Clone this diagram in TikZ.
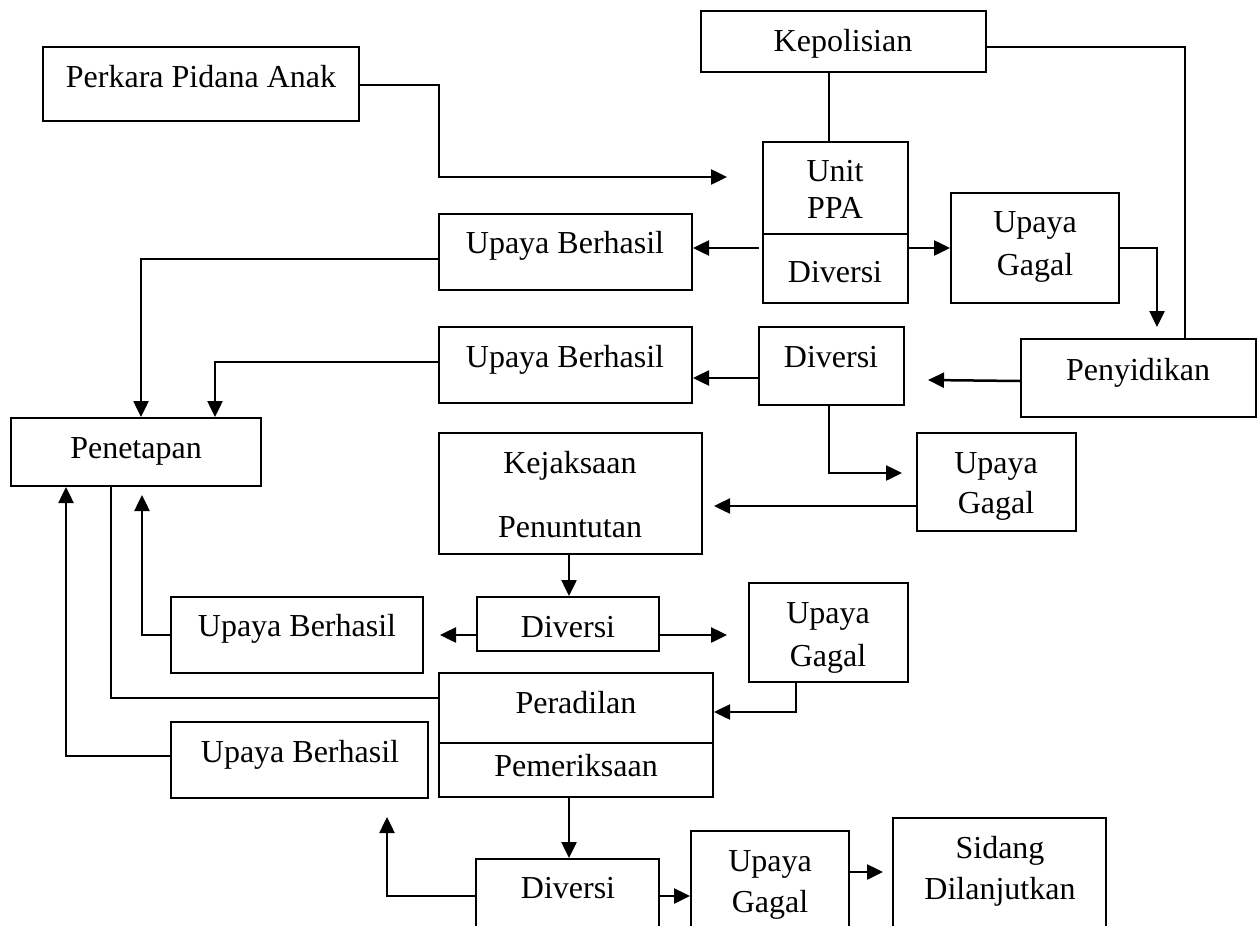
\documentclass[tikz,border=0pt]{standalone}
\usepackage{fontspec}
\setmainfont{Liberation Serif}
\usetikzlibrary{fit,arrows.meta}
\begin{document}
\begin{tikzpicture}[x=0.5pt,y=-0.5pt,
  box/.style={draw, line width=1pt, inner sep=0pt, rectangle},
  txt/.style={inner sep=0pt, anchor=base, font=\fontsize{16}{19}\selectfont},
  ln/.style={line width=1pt},
  arr/.style={line width=1.25pt, -{Triangle[length=8pt,width=7.5pt]}}]
\useasboundingbox (0,0) rectangle (1258,926);
\fill[white] (0,0) rectangle (1258,926);
% boxes
\node[box, fit={(43,47)(359,121)}] (perk) {};
\node[box, fit={(701,11)(986,72)}] (kep) {};
\node[box, fit={(763,142)(908,303)}] (ppa) {};
\node[box, fit={(951,193)(1119,303)}] (ug1) {};
\node[box, fit={(1021,339)(1256,417)}] (peny) {};
\node[box, fit={(759,327)(904,405)}] (dv2) {};
\node[box, fit={(439,214)(692,290)}] (ub1) {};
\node[box, fit={(439,327)(692,403)}] (ub2) {};
\node[box, fit={(11,418)(261,486)}] (pen) {};
\node[box, fit={(917,433)(1076,531)}] (ug2) {};
\node[box, fit={(439,433)(702,554)}] (kej) {};
\node[box, fit={(477,597)(659,651)}] (dv3) {};
\node[box, fit={(749,583)(908,682)}] (ug3) {};
\node[box, fit={(171,597)(423,673)}] (ub3) {};
\node[box, fit={(439,673)(713,797)}] (per) {};
\node[box, fit={(171,722)(428,798)}] (ub4) {};
\begin{scope}
\clip (0,0) rectangle (1258,926);
\node[box, fit={(476,859)(659,960)}] (dv4) {};
\node[box, fit={(691,831)(849,960)}] (ug4) {};
\node[box, fit={(893,818)(1106,960)}] (sid) {};
\end{scope}
% dividers
\draw[ln] (ppa.west |- 0,234) -- (ppa.east |- 0,234);
\draw[ln] (per.west |- 0,743) -- (per.east |- 0,743);
% texts
\node[txt] (perkT) at (201,87) {Perkara Pidana Anak};
\node[txt] (kepT) at (843,51) {Kepolisian};
\node[txt] (ppaT1) at (835,181) {Unit};
\node[txt] (ppaT2) at (835,218) {PPA};
\node[txt] (ppaT3) at (835,282) {Diversi};
\node[txt] (ug1T1) at (1035,232) {Upaya};
\node[txt] (ug1T2) at (1035,275) {Gagal};
\node[txt] (ub1T) at (565,253) {Upaya Berhasil};
\node[txt] (ub2T) at (565,367) {Upaya Berhasil};
\node[txt] (dv2T) at (831,367) {Diversi};
\node[txt] (penyT) at (1138,380) {Penyidikan};
\node[txt] (penT) at (136,458) {Penetapan};
\node[txt] (ug2T1) at (996,473) {Upaya};
\node[txt] (ug2T2) at (996,513) {Gagal};
\node[txt] (kejT1) at (570,473) {Kejaksaan};
\node[txt] (kejT2) at (570,537) {Penuntutan};
\node[txt] (dv3T) at (568,637) {Diversi};
\node[txt] (ug3T1) at (828,623) {Upaya};
\node[txt] (ug3T2) at (828,666) {Gagal};
\node[txt] (ub3T) at (297,636) {Upaya Berhasil};
\node[txt] (perT1) at (576,713) {Peradilan};
\node[txt] (perT2) at (576,776) {Pemeriksaan};
\node[txt] (ub4T) at (300,762) {Upaya Berhasil};
\node[txt] (dv4T) at (568,898) {Diversi};
\node[txt] (ug4T1) at (770,871) {Upaya};
\node[txt] (ug4T2) at (770,912) {Gagal};
\node[txt] (sidT1) at (1000,858) {Sidang};
\node[txt] (sidT2) at (1000,899) {Dilanjutkan};
% free ends
\coordinate (perkTip) at (727,177);
\coordinate (ppaL) at (759,248);
\coordinate (ug1Tip) at (1157,327);
\coordinate (penyTip) at (928,380);
\coordinate (dv2Tip) at (902,473);
\coordinate (ug2Tip) at (714,506);
\coordinate (dv3LTip) at (440,635);
\coordinate (dv3RTip) at (727,635);
\coordinate (ub3Tip) at (142,495);
\coordinate (dv4Tip) at (387,817);
\coordinate (ug4Tip) at (883,872);
% connectors
\draw[arr] (perk.east |- 0,85) -- (439,85) -- (439,177) -- (perkTip);
\draw[ln] (829,0 |- kep.south) -- (829,0 |- ppa.north);
\draw[ln] (kep.east |- 0,47) -- (1185,47) -- (1185,0 |- peny.north);
\draw[arr] (ppaL) -- (ub1.east |- 0,248);
\draw[arr] (ppa.east |- 0,248) -- (ug1.west |- 0,248);
\draw[arr] (ug1.east |- 0,248) -- (1157,248) -- (ug1Tip);
\draw[arr] (peny.west |- 0,381) -- (penyTip);
\draw[arr] (dv2.west |- 0,378) -- (ub2.east |- 0,378);
\draw[arr] (ub1.west |- 0,259) -- (141,259) -- (141,0 |- pen.north);
\draw[arr] (ub2.west |- 0,362) -- (215,362) -- (215,0 |- pen.north);
\draw[arr] (829,0 |- dv2.south) -- (829,473) -- (dv2Tip);
\draw[arr] (ug2.west |- 0,506) -- (ug2Tip);
\draw[arr] (569,0 |- kej.south) -- (569,0 |- dv3.north);
\draw[arr] (dv3.west |- 0,635) -- (dv3LTip);
\draw[arr] (dv3.east |- 0,635) -- (dv3RTip);
\draw[arr] (ub3.west |- 0,635) -- (142,635) -- (ub3Tip);
\draw[ln] (111,0 |- pen.south) -- (111,698) -- (per.west |- 0,698);
\draw[arr] (796,0 |- ug3.south) -- (796,712) -- (per.east |- 0,712);
\draw[arr] (ub4.west |- 0,756) -- (66,756) -- (66,0 |- pen.south);
\draw[arr] (569,0 |- per.south) -- (569,0 |- dv4.north);
\draw[arr] (dv4.west |- 0,896) -- (387,896) -- (dv4Tip);
\draw[arr] (dv4.east |- 0,896) -- (ug4.west |- 0,896);
\draw[arr] (ug4.east |- 0,872) -- (ug4Tip);
\end{tikzpicture}
\end{document}
